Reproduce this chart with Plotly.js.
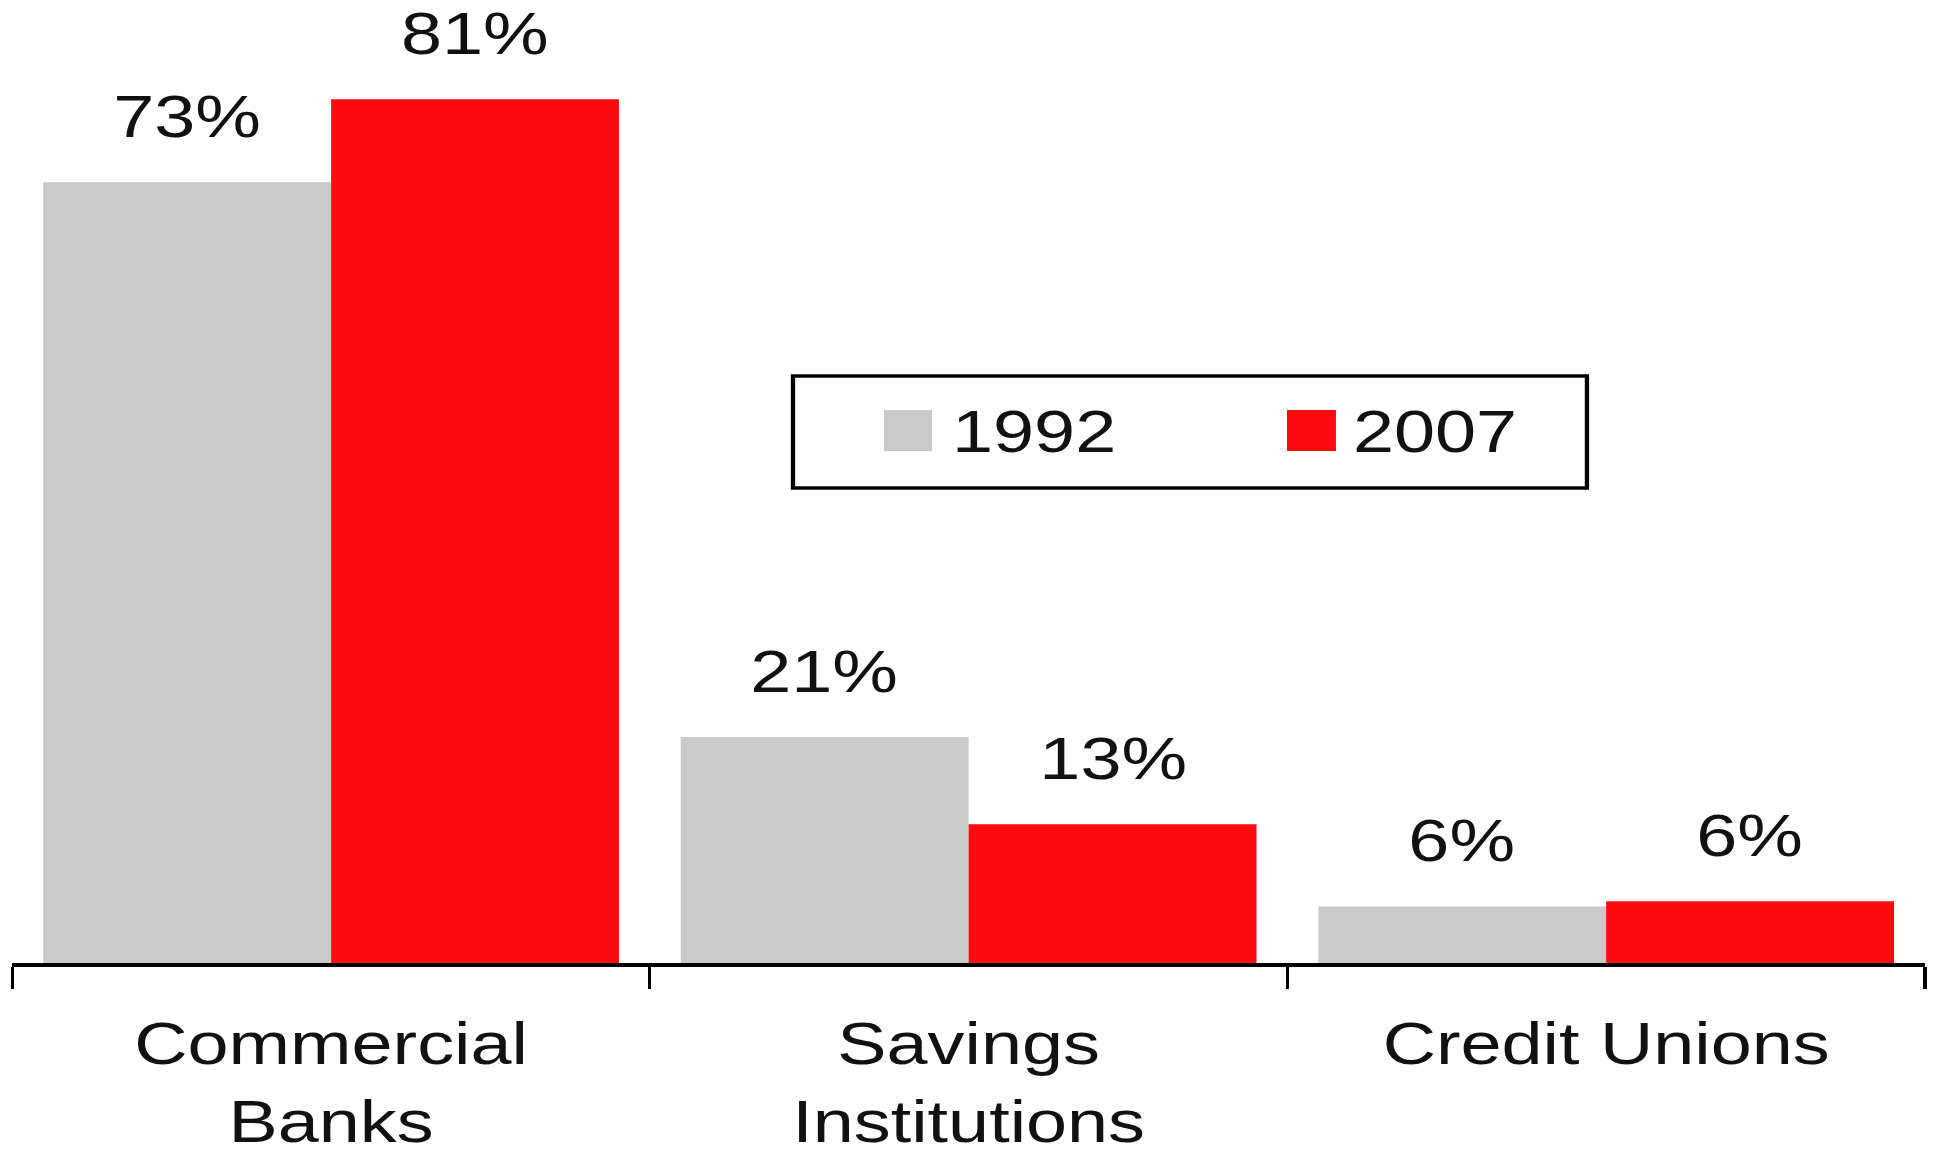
<!DOCTYPE html>
<html>
<head>
<meta charset="utf-8">
<script src="https://cdn.plot.ly/plotly-3.0.1.min.js"></script>
<style>
  html, body { margin: 0; padding: 0; background: #ffffff; overflow: hidden; }
  #wrap { width: 1941px; height: 1156px; overflow: hidden; }
</style>
</head>
<body>
<div id="wrap"><div id="chart"></div></div>
<script>
// ---- data ----
const categories = ['Commercial<br>Banks', 'Savings<br>Institutions', 'Credit Unions'];
const seriesNames = ['1992', '2007'];
const values1992 = [73.2, 21.2, 5.3];
const values2007 = [81, 13, 5.8];
const labels1992 = ['73%', '21%', '6%'];
const labels2007 = ['81%', '13%', '6%'];
const colors = ['#C9C9C9', '#FE0C10'];

// ---- layout helpers (text in the original is horizontally stretched) ----
const S = 1.23;
const W = 1941 / S;
const H = 1156;
const bargap = 0.097;
const off = (1 - bargap) / 4;
const FONT = 'Liberation Sans, Arial, sans-serif';
const TXT = '#111111';

const chart = document.getElementById('chart');
chart.style.width = W + 'px';
chart.style.height = H + 'px';
chart.style.transform = 'scaleX(' + S + ')';
chart.style.transformOrigin = '0 0';

const traces = [
  { type: 'bar', name: seriesNames[0], x: categories, y: values1992,
    marker: { color: colors[0], line: { width: 0 } }, hoverinfo: 'skip' },
  { type: 'bar', name: seriesNames[1], x: categories, y: values2007,
    marker: { color: colors[1], line: { width: 0 } }, hoverinfo: 'skip' }
];

const annotations = [];
categories.forEach((c, i) => {
  annotations.push({ x: i - off, y: values1992[i], xref: 'x', yref: 'y', text: labels1992[i],
    showarrow: false, yanchor: 'bottom', yshift: 31, borderpad: 0, font: { family: FONT, size: 60, color: TXT } });
  annotations.push({ x: i + off, y: values2007[i], xref: 'x', yref: 'y', text: labels2007[i],
    showarrow: false, yanchor: 'bottom', yshift: 31, borderpad: 0, font: { family: FONT, size: 60, color: TXT } });
});

// custom legend (paper coordinates of plot area)
const lx = v => (v / S - 10) / (W - 10 - 13);
const ly = v => 1 - v / 963;
const shapes = [
  { type: 'rect', xref: 'paper', yref: 'paper', x0: lx(793), x1: lx(1587), y0: ly(488), y1: ly(376),
    line: { color: '#000000', width: 3.5 }, fillcolor: 'rgba(0,0,0,0)' },
  { type: 'rect', xref: 'paper', yref: 'paper', x0: lx(884), x1: lx(932), y0: ly(451), y1: ly(410),
    line: { width: 0 }, fillcolor: colors[0] },
  { type: 'rect', xref: 'paper', yref: 'paper', x0: lx(1287), x1: lx(1336), y0: ly(451), y1: ly(410),
    line: { width: 0 }, fillcolor: colors[1] }
];
annotations.push({ xref: 'paper', yref: 'paper', x: lx(949), y: ly(431), xanchor: 'left', yanchor: 'middle',
  text: seriesNames[0], showarrow: false, font: { family: FONT, size: 60, color: TXT } });
annotations.push({ xref: 'paper', yref: 'paper', x: lx(1350), y: ly(431), xanchor: 'left', yanchor: 'middle',
  text: seriesNames[1], showarrow: false, font: { family: FONT, size: 60, color: TXT } });

const layout = {
  width: W, height: H,
  margin: { l: 12 / S, r: W - 1925 / S, t: 0, b: H - 963, pad: 0 },
  paper_bgcolor: '#ffffff', plot_bgcolor: '#ffffff',
  barmode: 'group', bargap: bargap, bargroupgap: 0,
  showlegend: false,
  font: { family: FONT, size: 60, color: TXT },
  xaxis: {
    type: 'category', showgrid: false, zeroline: false,
    showline: true, linecolor: '#000000', linewidth: 4,
    ticks: 'outside', tickson: 'boundaries', ticklen: 22, tickwidth: 2.6, tickcolor: '#000000',
    ticklabelstandoff: 25,
    tickfont: { family: FONT, size: 60, color: TXT }
  },
  yaxis: { range: [0, 90.3], visible: false, showgrid: false, zeroline: false, fixedrange: true },
  shapes: shapes,
  annotations: annotations
};

Plotly.newPlot(chart, traces, layout, { staticPlot: true, displayModeBar: false });
</script>
</body>
</html>
